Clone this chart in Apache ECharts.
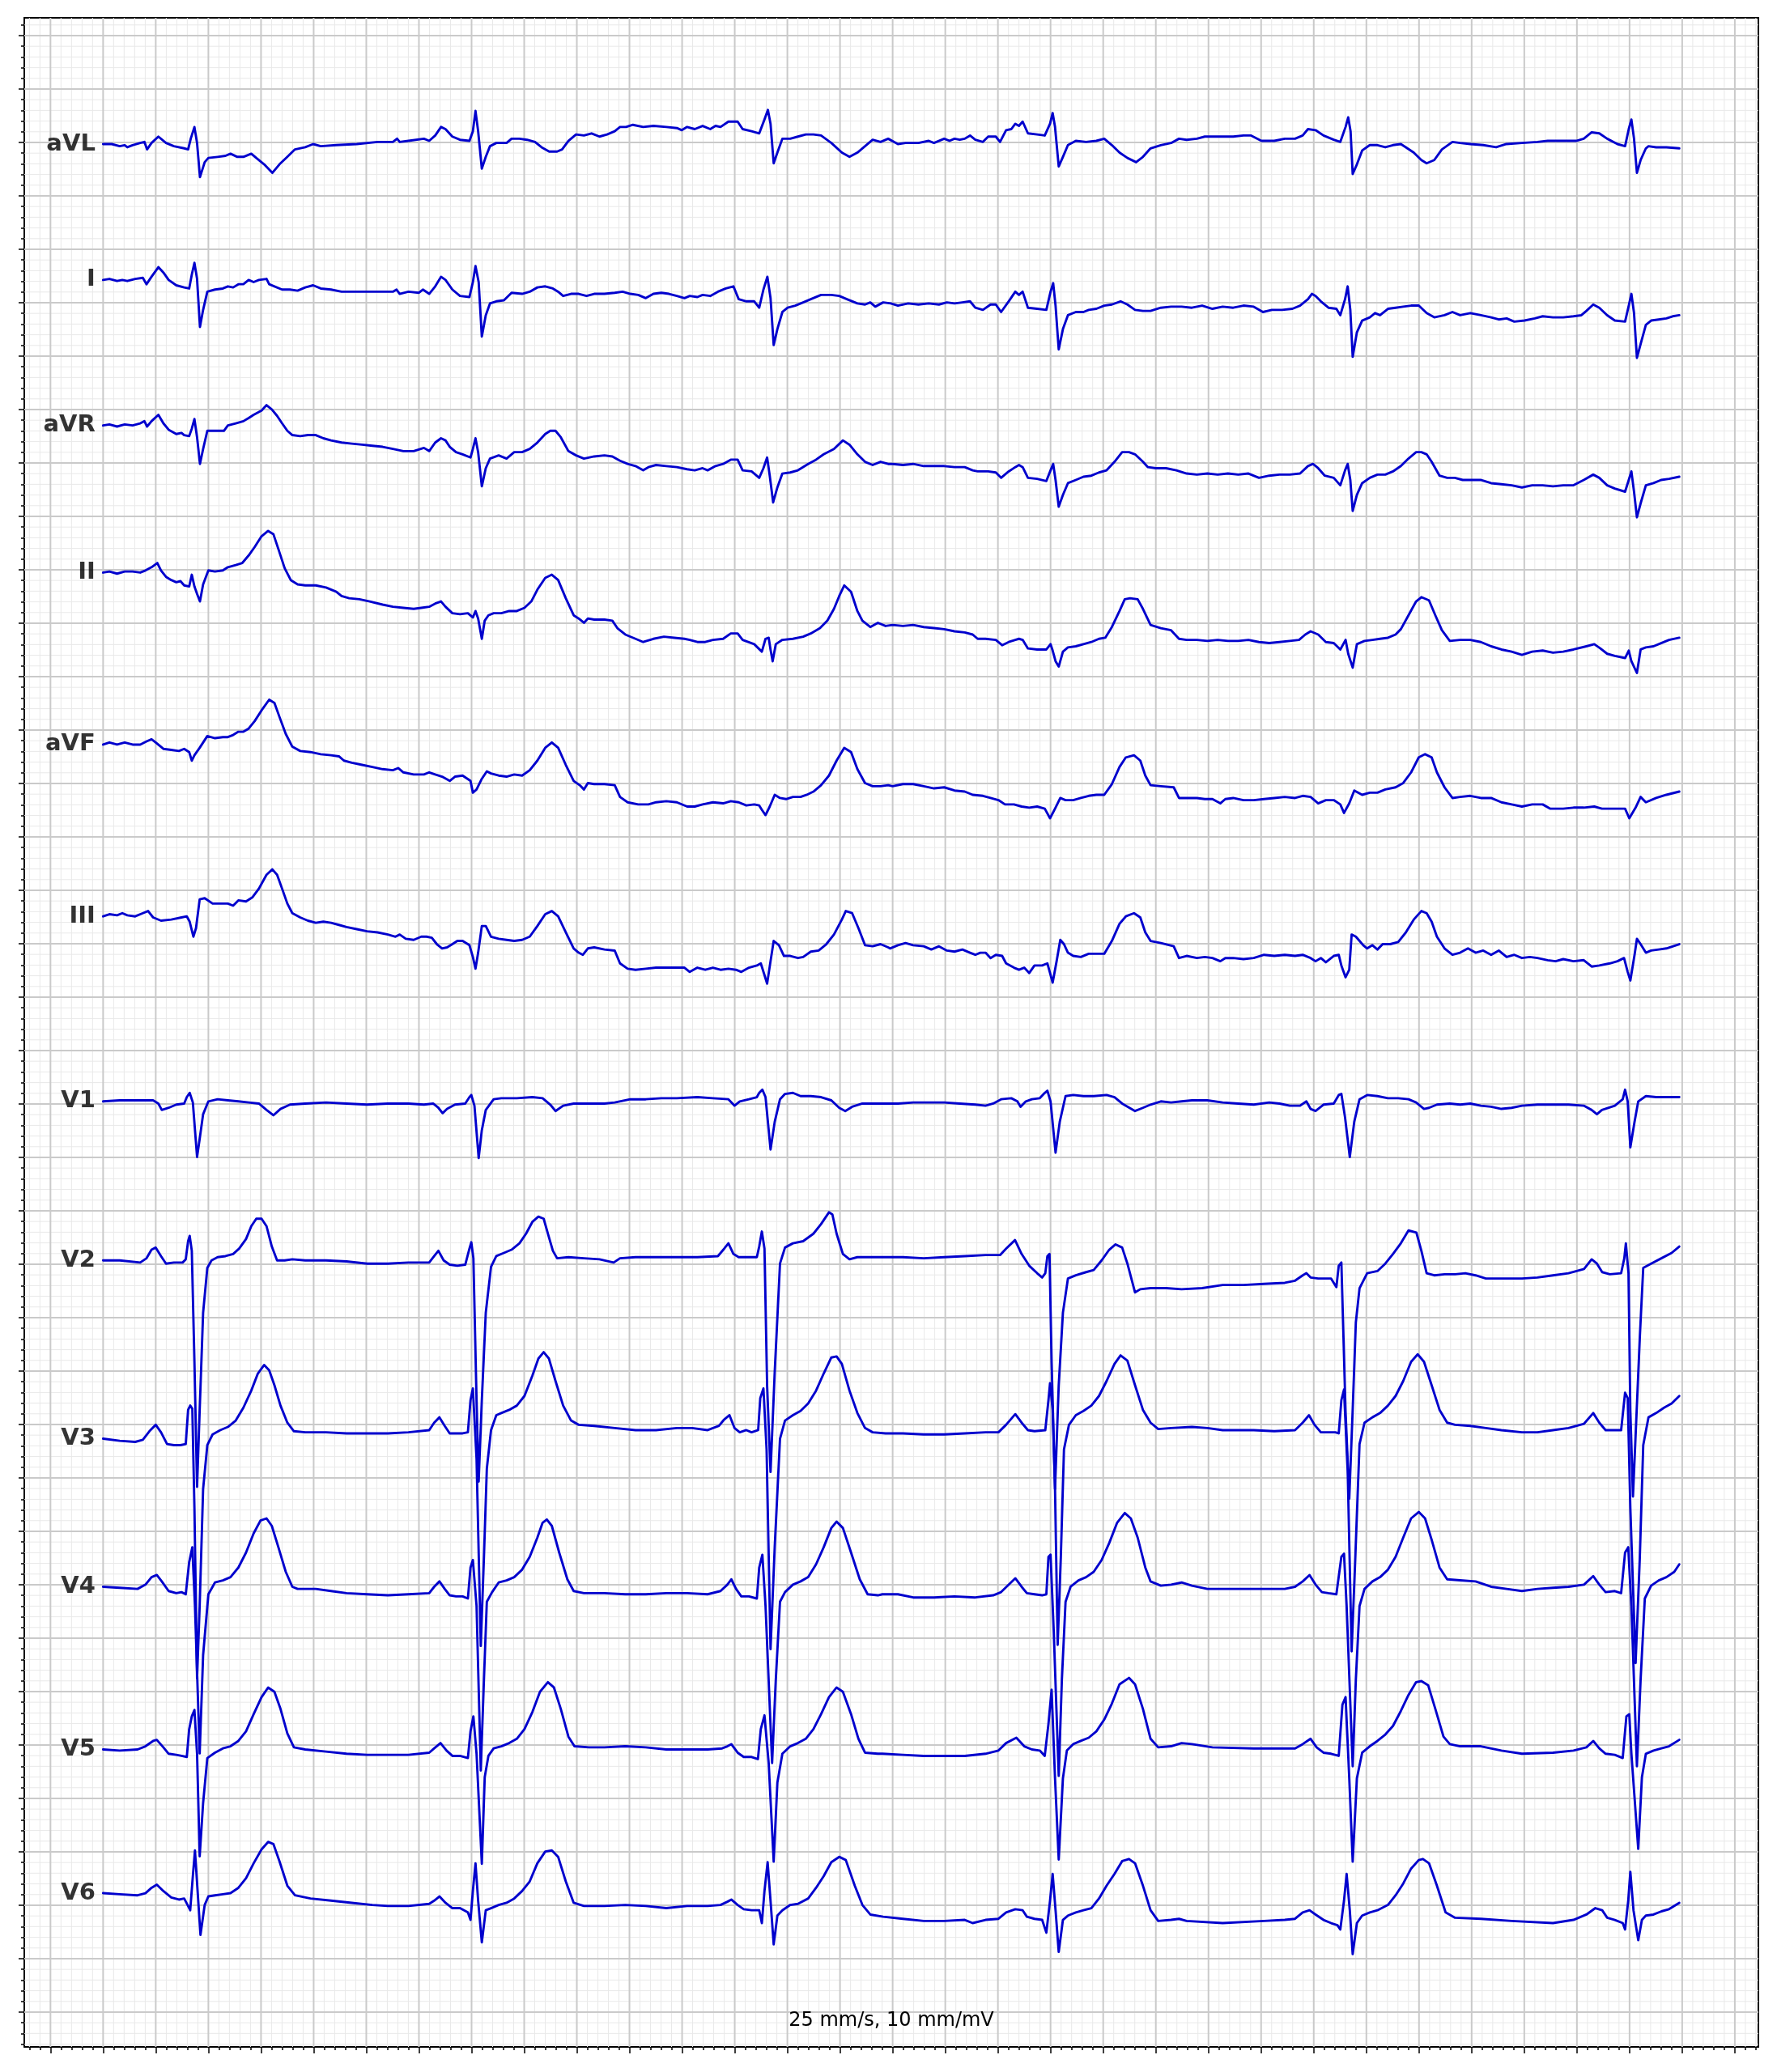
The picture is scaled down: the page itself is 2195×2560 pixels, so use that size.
<!DOCTYPE html>
<html>
<head>
<meta charset="utf-8">
<script src="https://cdn.jsdelivr.net/npm/echarts@6/dist/echarts.min.js"></script>
<style>
html,body{margin:0;padding:0;background:#ffffff;}
#chart{width:2195px;height:2560px;}
</style>
</head>
<body>
<div id="chart"></div>
<script>
// ---- Data (time in s, amplitude in mV relative to each lead's start level) ----
const leadNames = ['aVL','I','aVR','II','aVF','III','V1','V2','V3','V4','V5','V6'];
const leadOffsets = [-1.015,-2.287,-3.649,-5.026,-6.636,-8.244,-9.976,-11.464,-13.133,-14.519,-16.042,-17.387];
const caption = '25 mm/s, 10 mm/mV';

const aVL = [[0,0],[0.033,0],[0.063,-0.02],[0.082,-0.01],[0.092,-0.03],[0.112,-0.01],[0.141,0.01],[0.157,0.02],[0.167,-0.05],[0.184,0.01],[0.21,0.07],[0.239,0.01],[0.269,-0.02],[0.308,-0.04],[0.323,-0.05],[0.333,0.05],[0.347,0.16],[0.357,0.01],[0.368,-0.31],[0.386,-0.17],[0.4,-0.13],[0.435,-0.12],[0.465,-0.11],[0.484,-0.09],[0.51,-0.12],[0.533,-0.12],[0.563,-0.09],[0.582,-0.13],[0.612,-0.19],[0.643,-0.27],[0.67,-0.19],[0.7,-0.12],[0.729,-0.05],[0.768,-0.03],[0.798,0],[0.827,-0.02],[0.886,-0.01],[0.964,0],[1.043,0.02],[1.101,0.02],[1.117,0.05],[1.127,0.02],[1.16,0.03],[1.219,0.05],[1.239,0.03],[1.262,0.08],[1.284,0.16],[1.301,0.14],[1.327,0.07],[1.356,0.04],[1.392,0.03],[1.405,0.12],[1.415,0.31],[1.425,0.12],[1.439,-0.23],[1.454,-0.12],[1.47,-0.02],[1.494,0.01],[1.533,0.01],[1.552,0.05],[1.582,0.05],[1.611,0.04],[1.641,0.02],[1.666,-0.03],[1.695,-0.07],[1.725,-0.07],[1.744,-0.05],[1.768,0.03],[1.797,0.09],[1.827,0.08],[1.856,0.1],[1.886,0.07],[1.915,0.09],[1.944,0.12],[1.964,0.16],[1.987,0.16],[2.013,0.18],[2.052,0.16],[2.091,0.17],[2.14,0.16],[2.18,0.15],[2.199,0.13],[2.219,0.16],[2.248,0.14],[2.278,0.17],[2.307,0.14],[2.327,0.17],[2.346,0.16],[2.376,0.21],[2.411,0.21],[2.43,0.14],[2.464,0.12],[2.493,0.1],[2.513,0.23],[2.526,0.32],[2.536,0.19],[2.548,-0.18],[2.562,-0.08],[2.581,0.05],[2.611,0.05],[2.64,0.07],[2.67,0.09],[2.699,0.09],[2.728,0.08],[2.767,0.01],[2.807,-0.08],[2.836,-0.12],[2.866,-0.08],[2.895,-0.02],[2.924,0.04],[2.954,0.02],[2.983,0.05],[3.02,0],[3.049,0.01],[3.098,0.01],[3.137,0.03],[3.157,0.01],[3.196,0.05],[3.216,0.03],[3.235,0.05],[3.255,0.04],[3.274,0.05],[3.294,0.08],[3.314,0.04],[3.343,0.02],[3.363,0.07],[3.392,0.07],[3.408,0.02],[3.431,0.13],[3.451,0.14],[3.466,0.19],[3.48,0.17],[3.494,0.21],[3.514,0.1],[3.549,0.09],[3.578,0.08],[3.598,0.19],[3.608,0.29],[3.617,0.16],[3.631,-0.21],[3.647,-0.12],[3.666,-0.01],[3.696,0.03],[3.735,0.02],[3.774,0.03],[3.804,0.05],[3.833,-0.01],[3.862,-0.08],[3.892,-0.13],[3.925,-0.17],[3.951,-0.12],[3.98,-0.04],[4.019,-0.01],[4.058,0.01],[4.088,0.05],[4.117,0.04],[4.156,0.05],[4.186,0.07],[4.235,0.07],[4.294,0.07],[4.333,0.08],[4.362,0.08],[4.401,0.03],[4.45,0.03],[4.49,0.05],[4.529,0.05],[4.558,0.08],[4.578,0.14],[4.607,0.13],[4.637,0.08],[4.676,0.04],[4.701,0.02],[4.721,0.16],[4.731,0.25],[4.74,0.12],[4.748,-0.28],[4.764,-0.19],[4.784,-0.06],[4.813,-0.01],[4.842,-0.01],[4.872,-0.03],[4.901,-0.01],[4.931,0],[4.95,-0.03],[4.98,-0.08],[5.009,-0.15],[5.029,-0.18],[5.058,-0.15],[5.087,-0.05],[5.127,0.02],[5.156,0.01],[5.195,0],[5.244,-0.01],[5.293,-0.03],[5.332,0],[5.391,0.01],[5.45,0.02],[5.489,0.03],[5.548,0.03],[5.597,0.03],[5.626,0.05],[5.656,0.11],[5.685,0.1],[5.715,0.05],[5.754,0],[5.783,-0.02],[5.797,0.14],[5.807,0.23],[5.817,0.05],[5.828,-0.27],[5.842,-0.15],[5.862,-0.04],[5.872,-0.02],[5.901,-0.03],[5.94,-0.03],[5.989,-0.04]];

const I = [[0,0],[0.024,0.01],[0.053,-0.01],[0.073,0],[0.092,-0.01],[0.122,0.01],[0.151,0.02],[0.165,-0.04],[0.184,0.03],[0.21,0.12],[0.229,0.07],[0.249,0],[0.278,-0.05],[0.308,-0.07],[0.327,-0.08],[0.337,0.05],[0.347,0.16],[0.357,0.01],[0.368,-0.44],[0.38,-0.28],[0.396,-0.11],[0.425,-0.09],[0.455,-0.08],[0.474,-0.06],[0.494,-0.07],[0.514,-0.04],[0.533,-0.04],[0.553,0],[0.572,-0.02],[0.592,0],[0.621,0.01],[0.631,-0.04],[0.651,-0.06],[0.68,-0.09],[0.71,-0.09],[0.739,-0.1],[0.768,-0.07],[0.798,-0.05],[0.827,-0.08],[0.866,-0.09],[0.906,-0.11],[0.964,-0.11],[1.043,-0.11],[1.101,-0.11],[1.115,-0.09],[1.127,-0.13],[1.16,-0.11],[1.2,-0.12],[1.215,-0.09],[1.239,-0.13],[1.262,-0.06],[1.284,0.03],[1.301,0],[1.327,-0.09],[1.356,-0.15],[1.392,-0.16],[1.405,-0.02],[1.415,0.13],[1.427,-0.02],[1.439,-0.53],[1.454,-0.33],[1.47,-0.22],[1.494,-0.2],[1.523,-0.19],[1.552,-0.12],[1.592,-0.13],[1.621,-0.11],[1.65,-0.07],[1.68,-0.06],[1.709,-0.08],[1.729,-0.11],[1.748,-0.15],[1.778,-0.13],[1.807,-0.13],[1.837,-0.15],[1.866,-0.13],[1.905,-0.13],[1.944,-0.12],[1.974,-0.11],[2.003,-0.13],[2.033,-0.14],[2.062,-0.17],[2.091,-0.13],[2.121,-0.12],[2.15,-0.13],[2.18,-0.15],[2.209,-0.17],[2.229,-0.15],[2.258,-0.16],[2.278,-0.14],[2.307,-0.15],[2.336,-0.11],[2.366,-0.08],[2.395,-0.06],[2.415,-0.18],[2.444,-0.2],[2.474,-0.2],[2.493,-0.26],[2.509,-0.09],[2.524,0.03],[2.536,-0.17],[2.548,-0.61],[2.562,-0.46],[2.581,-0.3],[2.601,-0.26],[2.63,-0.24],[2.66,-0.21],[2.689,-0.18],[2.728,-0.14],[2.767,-0.14],[2.797,-0.15],[2.826,-0.18],[2.866,-0.22],[2.895,-0.23],[2.915,-0.21],[2.934,-0.25],[2.964,-0.21],[2.993,-0.22],[3.02,-0.24],[3.059,-0.22],[3.098,-0.23],[3.137,-0.22],[3.176,-0.23],[3.206,-0.21],[3.235,-0.22],[3.265,-0.21],[3.294,-0.2],[3.314,-0.26],[3.343,-0.28],[3.372,-0.23],[3.392,-0.23],[3.412,-0.3],[3.441,-0.2],[3.466,-0.11],[3.48,-0.14],[3.494,-0.11],[3.514,-0.26],[3.549,-0.27],[3.584,-0.28],[3.6,-0.11],[3.61,-0.03],[3.619,-0.24],[3.631,-0.65],[3.647,-0.46],[3.666,-0.33],[3.696,-0.3],[3.725,-0.3],[3.745,-0.28],[3.774,-0.27],[3.804,-0.24],[3.833,-0.23],[3.866,-0.2],[3.892,-0.23],[3.921,-0.28],[3.951,-0.29],[3.98,-0.29],[4.019,-0.26],[4.058,-0.25],[4.098,-0.25],[4.137,-0.26],[4.176,-0.24],[4.215,-0.27],[4.254,-0.25],[4.294,-0.26],[4.333,-0.24],[4.372,-0.25],[4.407,-0.3],[4.441,-0.28],[4.48,-0.28],[4.519,-0.27],[4.548,-0.24],[4.578,-0.18],[4.593,-0.13],[4.607,-0.15],[4.627,-0.2],[4.656,-0.26],[4.686,-0.27],[4.701,-0.33],[4.719,-0.18],[4.729,-0.06],[4.739,-0.28],[4.748,-0.72],[4.764,-0.49],[4.784,-0.38],[4.813,-0.35],[4.833,-0.31],[4.852,-0.33],[4.882,-0.27],[4.911,-0.26],[4.94,-0.25],[4.97,-0.24],[4.999,-0.24],[5.029,-0.31],[5.058,-0.35],[5.097,-0.33],[5.127,-0.3],[5.156,-0.33],[5.195,-0.31],[5.235,-0.33],[5.274,-0.35],[5.303,-0.37],[5.333,-0.36],[5.362,-0.39],[5.401,-0.38],[5.44,-0.36],[5.47,-0.34],[5.509,-0.35],[5.548,-0.35],[5.587,-0.34],[5.617,-0.33],[5.636,-0.29],[5.662,-0.23],[5.685,-0.26],[5.715,-0.33],[5.744,-0.38],[5.783,-0.39],[5.797,-0.24],[5.807,-0.13],[5.817,-0.31],[5.828,-0.73],[5.842,-0.6],[5.862,-0.42],[5.882,-0.38],[5.911,-0.37],[5.94,-0.36],[5.964,-0.34],[5.989,-0.33]];

const aVR = [[0,0],[0.024,0.01],[0.053,-0.01],[0.082,0.01],[0.112,0],[0.141,0.02],[0.157,0.04],[0.167,-0.01],[0.184,0.04],[0.21,0.1],[0.229,0.02],[0.249,-0.04],[0.278,-0.08],[0.298,-0.07],[0.308,-0.09],[0.327,-0.1],[0.337,-0.03],[0.347,0.06],[0.357,-0.11],[0.368,-0.36],[0.38,-0.22],[0.396,-0.05],[0.435,-0.05],[0.459,-0.05],[0.474,0],[0.504,0.02],[0.533,0.04],[0.553,0.07],[0.572,0.1],[0.602,0.14],[0.621,0.19],[0.641,0.15],[0.661,0.09],[0.68,0.02],[0.7,-0.05],[0.719,-0.09],[0.749,-0.1],[0.778,-0.09],[0.808,-0.09],[0.837,-0.12],[0.866,-0.14],[0.906,-0.16],[0.945,-0.17],[0.984,-0.18],[1.023,-0.19],[1.062,-0.2],[1.101,-0.22],[1.141,-0.24],[1.18,-0.24],[1.219,-0.21],[1.239,-0.24],[1.262,-0.16],[1.284,-0.12],[1.301,-0.14],[1.317,-0.2],[1.341,-0.25],[1.366,-0.27],[1.396,-0.3],[1.405,-0.22],[1.415,-0.12],[1.425,-0.25],[1.439,-0.57],[1.454,-0.4],[1.47,-0.31],[1.503,-0.28],[1.533,-0.31],[1.562,-0.25],[1.592,-0.25],[1.621,-0.22],[1.65,-0.16],[1.68,-0.08],[1.699,-0.05],[1.719,-0.05],[1.739,-0.11],[1.768,-0.24],[1.797,-0.28],[1.827,-0.31],[1.866,-0.29],[1.905,-0.28],[1.935,-0.29],[1.964,-0.33],[1.993,-0.36],[2.023,-0.38],[2.052,-0.42],[2.072,-0.39],[2.101,-0.37],[2.14,-0.38],[2.18,-0.39],[2.219,-0.41],[2.248,-0.42],[2.278,-0.4],[2.297,-0.42],[2.327,-0.38],[2.356,-0.36],[2.385,-0.32],[2.411,-0.32],[2.43,-0.42],[2.464,-0.43],[2.493,-0.49],[2.509,-0.4],[2.523,-0.3],[2.533,-0.47],[2.546,-0.72],[2.562,-0.58],[2.581,-0.45],[2.611,-0.44],[2.64,-0.42],[2.679,-0.36],[2.709,-0.32],[2.738,-0.27],[2.777,-0.22],[2.811,-0.14],[2.836,-0.18],[2.866,-0.27],[2.895,-0.34],[2.924,-0.37],[2.954,-0.34],[2.983,-0.36],[3,-0.36],[3.039,-0.37],[3.078,-0.36],[3.118,-0.38],[3.157,-0.38],[3.196,-0.38],[3.235,-0.39],[3.274,-0.39],[3.304,-0.42],[3.323,-0.43],[3.363,-0.43],[3.392,-0.44],[3.412,-0.49],[3.441,-0.43],[3.466,-0.39],[3.48,-0.37],[3.494,-0.39],[3.514,-0.49],[3.549,-0.5],[3.584,-0.52],[3.6,-0.42],[3.61,-0.36],[3.619,-0.51],[3.631,-0.76],[3.647,-0.65],[3.666,-0.54],[3.696,-0.51],[3.725,-0.48],[3.755,-0.47],[3.784,-0.44],[3.813,-0.42],[3.843,-0.34],[3.872,-0.25],[3.898,-0.25],[3.921,-0.27],[3.951,-0.34],[3.97,-0.39],[4,-0.4],[4.039,-0.4],[4.078,-0.42],[4.117,-0.45],[4.156,-0.46],[4.196,-0.45],[4.235,-0.46],[4.274,-0.45],[4.313,-0.46],[4.352,-0.45],[4.392,-0.49],[4.431,-0.47],[4.47,-0.46],[4.509,-0.46],[4.548,-0.45],[4.578,-0.38],[4.597,-0.36],[4.617,-0.4],[4.642,-0.47],[4.676,-0.49],[4.701,-0.56],[4.719,-0.42],[4.729,-0.36],[4.739,-0.51],[4.748,-0.8],[4.764,-0.65],[4.784,-0.54],[4.813,-0.49],[4.842,-0.46],[4.872,-0.46],[4.901,-0.43],[4.931,-0.38],[4.96,-0.31],[4.989,-0.25],[5.009,-0.25],[5.029,-0.27],[5.048,-0.34],[5.078,-0.47],[5.107,-0.49],[5.136,-0.49],[5.166,-0.51],[5.195,-0.51],[5.234,-0.51],[5.274,-0.54],[5.313,-0.55],[5.352,-0.56],[5.391,-0.58],[5.43,-0.56],[5.47,-0.56],[5.509,-0.57],[5.548,-0.56],[5.587,-0.56],[5.626,-0.51],[5.662,-0.46],[5.685,-0.49],[5.715,-0.56],[5.744,-0.59],[5.783,-0.62],[5.797,-0.51],[5.807,-0.43],[5.817,-0.62],[5.828,-0.86],[5.842,-0.73],[5.862,-0.56],[5.891,-0.54],[5.92,-0.51],[5.95,-0.5],[5.989,-0.48]];

const II = [[0,0],[0.024,0.01],[0.053,-0.01],[0.082,0.01],[0.112,0.01],[0.141,0],[0.161,0.02],[0.184,0.05],[0.206,0.09],[0.22,0.02],[0.239,-0.04],[0.259,-0.07],[0.278,-0.09],[0.294,-0.08],[0.308,-0.12],[0.327,-0.13],[0.337,-0.02],[0.347,-0.13],[0.357,-0.2],[0.368,-0.27],[0.38,-0.11],[0.4,0.02],[0.425,0.01],[0.455,0.02],[0.474,0.05],[0.504,0.07],[0.529,0.09],[0.553,0.16],[0.576,0.24],[0.602,0.34],[0.627,0.39],[0.647,0.36],[0.666,0.22],[0.69,0.04],[0.713,-0.07],[0.739,-0.11],[0.768,-0.12],[0.808,-0.12],[0.847,-0.14],[0.886,-0.18],[0.906,-0.22],[0.935,-0.24],[0.974,-0.25],[1.013,-0.27],[1.062,-0.3],[1.101,-0.32],[1.141,-0.33],[1.18,-0.34],[1.209,-0.33],[1.239,-0.32],[1.262,-0.29],[1.284,-0.27],[1.301,-0.32],[1.327,-0.38],[1.356,-0.39],[1.386,-0.38],[1.405,-0.42],[1.415,-0.36],[1.425,-0.43],[1.439,-0.62],[1.45,-0.45],[1.464,-0.4],[1.484,-0.38],[1.513,-0.38],[1.543,-0.36],[1.572,-0.36],[1.601,-0.33],[1.627,-0.27],[1.65,-0.16],[1.68,-0.05],[1.705,-0.02],[1.729,-0.07],[1.758,-0.24],[1.788,-0.4],[1.807,-0.43],[1.827,-0.47],[1.842,-0.43],[1.866,-0.44],[1.905,-0.44],[1.935,-0.45],[1.954,-0.52],[1.984,-0.58],[2.023,-0.62],[2.052,-0.65],[2.091,-0.62],[2.131,-0.6],[2.17,-0.61],[2.209,-0.62],[2.229,-0.63],[2.258,-0.65],[2.288,-0.65],[2.317,-0.63],[2.356,-0.62],[2.385,-0.57],[2.411,-0.57],[2.43,-0.63],[2.474,-0.67],[2.503,-0.74],[2.517,-0.62],[2.529,-0.61],[2.536,-0.72],[2.544,-0.83],[2.556,-0.67],[2.581,-0.63],[2.621,-0.62],[2.66,-0.6],[2.689,-0.57],[2.724,-0.52],[2.752,-0.45],[2.777,-0.34],[2.797,-0.22],[2.816,-0.12],[2.842,-0.18],[2.866,-0.36],[2.885,-0.45],[2.915,-0.51],[2.944,-0.47],[2.973,-0.5],[3,-0.49],[3.039,-0.5],[3.078,-0.49],[3.118,-0.51],[3.157,-0.52],[3.196,-0.53],[3.235,-0.55],[3.274,-0.56],[3.304,-0.58],[3.323,-0.62],[3.353,-0.62],[3.392,-0.63],[3.416,-0.68],[3.441,-0.65],[3.466,-0.63],[3.48,-0.62],[3.494,-0.63],[3.514,-0.71],[3.549,-0.72],[3.584,-0.72],[3.6,-0.67],[3.608,-0.73],[3.619,-0.83],[3.631,-0.88],[3.647,-0.74],[3.666,-0.7],[3.696,-0.69],[3.725,-0.67],[3.755,-0.65],[3.784,-0.62],[3.808,-0.61],[3.833,-0.51],[3.862,-0.36],[3.882,-0.25],[3.902,-0.24],[3.931,-0.25],[3.951,-0.34],[3.98,-0.49],[4.019,-0.52],[4.058,-0.54],[4.088,-0.62],[4.117,-0.63],[4.156,-0.63],[4.196,-0.64],[4.235,-0.63],[4.274,-0.64],[4.313,-0.64],[4.352,-0.63],[4.392,-0.65],[4.431,-0.66],[4.47,-0.65],[4.509,-0.64],[4.544,-0.63],[4.568,-0.58],[4.588,-0.55],[4.617,-0.58],[4.646,-0.65],[4.676,-0.66],[4.701,-0.72],[4.721,-0.63],[4.731,-0.76],[4.748,-0.89],[4.764,-0.67],[4.793,-0.64],[4.823,-0.63],[4.852,-0.62],[4.882,-0.61],[4.911,-0.58],[4.931,-0.53],[4.96,-0.4],[4.989,-0.27],[5.009,-0.23],[5.038,-0.26],[5.062,-0.4],[5.087,-0.54],[5.117,-0.64],[5.156,-0.63],[5.195,-0.63],[5.235,-0.65],[5.274,-0.69],[5.313,-0.72],[5.352,-0.74],[5.391,-0.77],[5.43,-0.74],[5.47,-0.73],[5.509,-0.75],[5.548,-0.74],[5.587,-0.72],[5.636,-0.69],[5.666,-0.67],[5.689,-0.71],[5.715,-0.76],[5.744,-0.78],[5.783,-0.8],[5.797,-0.73],[5.807,-0.83],[5.828,-0.94],[5.842,-0.72],[5.862,-0.7],[5.891,-0.69],[5.92,-0.66],[5.95,-0.63],[5.989,-0.61]];

const aVF = [[0,0],[0.024,0.02],[0.053,0],[0.082,0.02],[0.112,0],[0.141,0],[0.165,0.03],[0.184,0.05],[0.2,0.02],[0.229,-0.04],[0.259,-0.05],[0.288,-0.06],[0.308,-0.04],[0.327,-0.07],[0.337,-0.15],[0.347,-0.1],[0.367,-0.03],[0.396,0.08],[0.425,0.06],[0.455,0.07],[0.474,0.07],[0.494,0.09],[0.514,0.12],[0.533,0.12],[0.553,0.15],[0.576,0.22],[0.602,0.32],[0.631,0.42],[0.651,0.39],[0.67,0.26],[0.694,0.1],[0.719,-0.02],[0.749,-0.06],[0.788,-0.07],[0.827,-0.09],[0.866,-0.1],[0.896,-0.11],[0.915,-0.15],[0.945,-0.17],[0.984,-0.19],[1.023,-0.21],[1.062,-0.23],[1.101,-0.24],[1.121,-0.22],[1.141,-0.26],[1.18,-0.28],[1.219,-0.28],[1.239,-0.26],[1.262,-0.28],[1.288,-0.3],[1.317,-0.34],[1.337,-0.3],[1.366,-0.29],[1.396,-0.34],[1.405,-0.45],[1.419,-0.42],[1.439,-0.32],[1.458,-0.25],[1.474,-0.27],[1.503,-0.29],[1.533,-0.3],[1.562,-0.28],[1.592,-0.29],[1.621,-0.24],[1.65,-0.15],[1.68,-0.03],[1.705,0.02],[1.729,-0.03],[1.758,-0.19],[1.788,-0.34],[1.811,-0.38],[1.827,-0.42],[1.842,-0.36],[1.866,-0.37],[1.905,-0.37],[1.944,-0.38],[1.964,-0.49],[1.993,-0.54],[2.033,-0.56],[2.072,-0.56],[2.101,-0.54],[2.14,-0.53],[2.18,-0.54],[2.219,-0.58],[2.248,-0.58],[2.278,-0.56],[2.317,-0.54],[2.356,-0.55],[2.385,-0.53],[2.415,-0.54],[2.444,-0.57],[2.474,-0.56],[2.493,-0.57],[2.503,-0.61],[2.517,-0.66],[2.533,-0.58],[2.552,-0.47],[2.572,-0.5],[2.595,-0.51],[2.621,-0.49],[2.65,-0.49],[2.674,-0.47],[2.699,-0.44],[2.728,-0.38],[2.758,-0.29],[2.787,-0.15],[2.816,-0.03],[2.842,-0.07],[2.866,-0.23],[2.895,-0.36],[2.924,-0.39],[2.954,-0.39],[2.983,-0.38],[3,-0.39],[3.039,-0.37],[3.078,-0.37],[3.118,-0.39],[3.157,-0.41],[3.196,-0.4],[3.235,-0.43],[3.274,-0.44],[3.304,-0.47],[3.343,-0.48],[3.372,-0.5],[3.402,-0.52],[3.427,-0.56],[3.461,-0.56],[3.49,-0.58],[3.519,-0.59],[3.549,-0.58],[3.578,-0.6],[3.598,-0.69],[3.617,-0.6],[3.637,-0.5],[3.657,-0.52],[3.686,-0.52],[3.715,-0.5],[3.745,-0.48],[3.774,-0.47],[3.804,-0.47],[3.833,-0.37],[3.862,-0.21],[3.886,-0.12],[3.917,-0.1],[3.941,-0.15],[3.96,-0.29],[3.98,-0.38],[4.019,-0.39],[4.068,-0.4],[4.088,-0.5],[4.117,-0.5],[4.156,-0.5],[4.186,-0.51],[4.215,-0.51],[4.245,-0.55],[4.264,-0.51],[4.294,-0.5],[4.333,-0.52],[4.372,-0.52],[4.411,-0.51],[4.45,-0.5],[4.49,-0.49],[4.529,-0.5],[4.558,-0.48],[4.588,-0.49],[4.617,-0.55],[4.646,-0.52],[4.676,-0.52],[4.701,-0.56],[4.715,-0.64],[4.735,-0.55],[4.754,-0.43],[4.784,-0.47],[4.813,-0.45],[4.842,-0.45],[4.872,-0.42],[4.911,-0.4],[4.94,-0.36],[4.97,-0.26],[4.999,-0.12],[5.023,-0.09],[5.048,-0.12],[5.068,-0.26],[5.097,-0.4],[5.127,-0.5],[5.156,-0.49],[5.195,-0.48],[5.235,-0.5],[5.274,-0.5],[5.313,-0.54],[5.352,-0.56],[5.391,-0.58],[5.43,-0.56],[5.47,-0.56],[5.499,-0.6],[5.548,-0.6],[5.587,-0.59],[5.626,-0.59],[5.666,-0.58],[5.695,-0.6],[5.744,-0.6],[5.783,-0.6],[5.799,-0.69],[5.823,-0.59],[5.842,-0.49],[5.862,-0.54],[5.901,-0.5],[5.94,-0.47],[5.989,-0.44]];

const III = [[0,0],[0.024,0.02],[0.053,0.01],[0.073,0.03],[0.092,0.01],[0.122,0],[0.151,0.03],[0.171,0.05],[0.19,-0.01],[0.22,-0.04],[0.259,-0.03],[0.298,-0.01],[0.318,0],[0.329,-0.05],[0.343,-0.19],[0.353,-0.11],[0.367,0.16],[0.386,0.17],[0.416,0.12],[0.445,0.12],[0.474,0.12],[0.494,0.1],[0.514,0.15],[0.543,0.14],[0.568,0.18],[0.592,0.26],[0.621,0.39],[0.643,0.44],[0.661,0.39],[0.68,0.26],[0.7,0.12],[0.719,0.03],[0.749,-0.01],[0.778,-0.04],[0.808,-0.06],[0.837,-0.05],[0.866,-0.06],[0.896,-0.08],[0.925,-0.1],[0.964,-0.12],[1.003,-0.14],[1.043,-0.15],[1.082,-0.17],[1.111,-0.19],[1.127,-0.17],[1.15,-0.21],[1.18,-0.22],[1.209,-0.19],[1.229,-0.19],[1.249,-0.2],[1.268,-0.26],[1.288,-0.3],[1.307,-0.29],[1.327,-0.26],[1.346,-0.23],[1.366,-0.23],[1.392,-0.27],[1.405,-0.38],[1.415,-0.49],[1.425,-0.34],[1.439,-0.09],[1.454,-0.09],[1.474,-0.19],[1.503,-0.21],[1.533,-0.22],[1.562,-0.23],[1.592,-0.22],[1.621,-0.19],[1.65,-0.09],[1.68,0.02],[1.705,0.05],[1.729,0],[1.758,-0.15],[1.788,-0.3],[1.807,-0.34],[1.823,-0.36],[1.842,-0.3],[1.866,-0.29],[1.905,-0.31],[1.944,-0.32],[1.964,-0.44],[1.993,-0.49],[2.023,-0.5],[2.062,-0.49],[2.101,-0.48],[2.14,-0.48],[2.18,-0.48],[2.209,-0.48],[2.229,-0.52],[2.258,-0.48],[2.288,-0.5],[2.317,-0.48],[2.346,-0.5],[2.376,-0.49],[2.405,-0.5],[2.425,-0.52],[2.454,-0.48],[2.484,-0.46],[2.499,-0.44],[2.513,-0.55],[2.523,-0.63],[2.536,-0.42],[2.548,-0.23],[2.568,-0.27],[2.587,-0.37],[2.611,-0.37],[2.64,-0.39],[2.66,-0.38],[2.689,-0.33],[2.719,-0.32],[2.748,-0.26],[2.777,-0.17],[2.807,-0.03],[2.822,0.05],[2.846,0.03],[2.87,-0.11],[2.895,-0.27],[2.924,-0.28],[2.954,-0.26],[2.983,-0.29],[2.99,-0.3],[3.02,-0.27],[3.049,-0.25],[3.078,-0.27],[3.118,-0.28],[3.147,-0.31],[3.176,-0.28],[3.206,-0.32],[3.235,-0.33],[3.265,-0.31],[3.294,-0.34],[3.314,-0.36],[3.333,-0.34],[3.353,-0.34],[3.372,-0.39],[3.392,-0.36],[3.416,-0.37],[3.431,-0.44],[3.461,-0.48],[3.48,-0.5],[3.5,-0.48],[3.519,-0.53],[3.539,-0.46],[3.568,-0.46],[3.588,-0.44],[3.598,-0.53],[3.608,-0.62],[3.623,-0.42],[3.637,-0.22],[3.651,-0.26],[3.666,-0.34],[3.686,-0.37],[3.715,-0.38],[3.745,-0.35],[3.774,-0.35],[3.804,-0.35],[3.833,-0.23],[3.862,-0.07],[3.886,0],[3.917,0.03],[3.941,-0.01],[3.96,-0.15],[3.98,-0.23],[4.019,-0.25],[4.068,-0.28],[4.088,-0.39],[4.117,-0.37],[4.156,-0.39],[4.186,-0.38],[4.215,-0.39],[4.245,-0.42],[4.264,-0.39],[4.294,-0.39],[4.333,-0.4],[4.372,-0.39],[4.411,-0.36],[4.45,-0.37],[4.49,-0.36],[4.529,-0.37],[4.558,-0.36],[4.588,-0.39],[4.607,-0.42],[4.627,-0.39],[4.646,-0.43],[4.676,-0.37],[4.695,-0.36],[4.705,-0.46],[4.721,-0.57],[4.735,-0.5],[4.744,-0.17],[4.76,-0.19],[4.774,-0.23],[4.788,-0.27],[4.803,-0.3],[4.823,-0.27],[4.842,-0.31],[4.862,-0.26],[4.891,-0.26],[4.921,-0.24],[4.95,-0.15],[4.98,-0.03],[5.009,0.05],[5.029,0.03],[5.048,-0.05],[5.068,-0.19],[5.097,-0.3],[5.127,-0.36],[5.156,-0.34],[5.186,-0.3],[5.215,-0.34],[5.244,-0.32],[5.274,-0.36],[5.303,-0.32],[5.333,-0.38],[5.362,-0.36],[5.391,-0.39],[5.421,-0.38],[5.45,-0.39],[5.489,-0.41],[5.519,-0.42],[5.548,-0.4],[5.587,-0.42],[5.626,-0.41],[5.656,-0.47],[5.685,-0.46],[5.725,-0.44],[5.754,-0.42],[5.779,-0.39],[5.793,-0.52],[5.803,-0.6],[5.819,-0.36],[5.828,-0.21],[5.842,-0.26],[5.862,-0.34],[5.882,-0.32],[5.911,-0.31],[5.94,-0.3],[5.989,-0.26]];

const V1 = [[0,0],[0.063,0.01],[0.141,0.01],[0.19,0.01],[0.21,-0.02],[0.223,-0.08],[0.249,-0.06],[0.278,-0.03],[0.308,-0.02],[0.318,0.04],[0.329,0.08],[0.341,-0.01],[0.357,-0.52],[0.367,-0.35],[0.38,-0.12],[0.4,0],[0.435,0.02],[0.474,0.01],[0.514,0],[0.553,-0.01],[0.592,-0.02],[0.621,-0.08],[0.647,-0.13],[0.674,-0.07],[0.71,-0.03],[0.768,-0.02],[0.847,-0.01],[0.925,-0.02],[1.003,-0.03],[1.082,-0.02],[1.16,-0.02],[1.219,-0.03],[1.254,-0.02],[1.274,-0.06],[1.29,-0.11],[1.307,-0.07],[1.337,-0.03],[1.376,-0.02],[1.392,0.04],[1.399,0.06],[1.411,-0.04],[1.427,-0.53],[1.439,-0.27],[1.454,-0.08],[1.484,0.02],[1.513,0.03],[1.572,0.03],[1.631,0.04],[1.67,0.03],[1.699,-0.03],[1.719,-0.09],[1.748,-0.04],[1.788,-0.02],[1.846,-0.02],[1.905,-0.02],[1.944,-0.01],[2.003,0.02],[2.062,0.02],[2.121,0.03],[2.18,0.03],[2.258,0.04],[2.317,0.03],[2.376,0.02],[2.399,-0.04],[2.419,0],[2.454,0.02],[2.484,0.04],[2.493,0.08],[2.505,0.11],[2.517,0.04],[2.536,-0.45],[2.552,-0.19],[2.572,0.02],[2.591,0.07],[2.621,0.08],[2.65,0.05],[2.689,0.05],[2.728,0.04],[2.767,0.01],[2.797,-0.06],[2.82,-0.09],[2.846,-0.05],[2.885,-0.02],[2.944,-0.02],[3.02,-0.02],[3.078,-0.01],[3.137,-0.01],[3.196,-0.01],[3.255,-0.02],[3.314,-0.03],[3.353,-0.04],[3.382,-0.02],[3.412,0.02],[3.451,0.03],[3.474,0],[3.486,-0.05],[3.506,0],[3.529,0.02],[3.559,0.03],[3.578,0.08],[3.588,0.1],[3.6,0],[3.619,-0.48],[3.635,-0.19],[3.657,0.05],[3.686,0.06],[3.725,0.05],[3.764,0.05],[3.813,0.06],[3.843,0.04],[3.872,-0.02],[3.921,-0.09],[3.951,-0.06],[3.98,-0.03],[4.019,0],[4.058,-0.01],[4.098,0],[4.137,0.01],[4.196,0.01],[4.254,-0.01],[4.313,-0.02],[4.372,-0.03],[4.431,-0.01],[4.47,-0.02],[4.509,-0.04],[4.548,-0.04],[4.572,0],[4.588,-0.07],[4.607,-0.09],[4.637,-0.03],[4.676,-0.02],[4.695,0.06],[4.705,0.07],[4.719,-0.15],[4.737,-0.52],[4.754,-0.19],[4.774,0.02],[4.803,0.06],[4.842,0.05],[4.882,0.03],[4.921,0.03],[4.96,0.02],[4.989,-0.01],[5.019,-0.07],[5.038,-0.06],[5.068,-0.03],[5.117,-0.02],[5.156,-0.03],[5.195,-0.02],[5.235,-0.04],[5.274,-0.05],[5.313,-0.07],[5.352,-0.06],[5.391,-0.04],[5.45,-0.03],[5.509,-0.03],[5.568,-0.03],[5.626,-0.04],[5.656,-0.08],[5.676,-0.12],[5.695,-0.08],[5.744,-0.04],[5.774,0.02],[5.783,0.11],[5.793,0],[5.803,-0.43],[5.819,-0.19],[5.833,0],[5.862,0.05],[5.901,0.04],[5.94,0.04],[5.989,0.04]];

const V2 = [[0,0],[0.063,0],[0.141,-0.02],[0.165,0.02],[0.184,0.1],[0.2,0.12],[0.22,0.04],[0.239,-0.03],[0.269,-0.02],[0.302,-0.02],[0.314,0.01],[0.323,0.18],[0.329,0.23],[0.337,0.09],[0.347,-0.95],[0.357,-2.12],[0.367,-1.4],[0.38,-0.49],[0.396,-0.07],[0.412,0],[0.435,0.03],[0.465,0.04],[0.494,0.06],[0.517,0.11],[0.543,0.2],[0.563,0.32],[0.582,0.39],[0.602,0.39],[0.621,0.32],[0.641,0.13],[0.661,0],[0.69,0],[0.719,0.01],[0.768,0],[0.847,0],[0.925,-0.01],[1.003,-0.03],[1.082,-0.03],[1.16,-0.02],[1.239,-0.02],[1.258,0.04],[1.274,0.09],[1.294,0],[1.317,-0.04],[1.346,-0.05],[1.376,-0.04],[1.392,0.11],[1.399,0.17],[1.407,0.02],[1.419,-1.31],[1.427,-2.07],[1.439,-1.31],[1.454,-0.49],[1.474,-0.06],[1.494,0.04],[1.523,0.07],[1.552,0.1],[1.582,0.16],[1.607,0.25],[1.631,0.36],[1.654,0.41],[1.674,0.39],[1.69,0.25],[1.709,0.09],[1.725,0.02],[1.768,0.03],[1.827,0.02],[1.886,0.01],[1.94,-0.02],[1.964,0.02],[2.023,0.03],[2.101,0.03],[2.18,0.03],[2.258,0.03],[2.336,0.04],[2.36,0.11],[2.376,0.16],[2.395,0.06],[2.415,0.03],[2.444,0.03],[2.484,0.03],[2.493,0.13],[2.503,0.27],[2.513,0.11],[2.523,-1.17],[2.536,-1.98],[2.552,-1.04],[2.572,-0.03],[2.591,0.12],[2.621,0.16],[2.66,0.18],[2.699,0.25],[2.728,0.34],[2.758,0.45],[2.771,0.43],[2.787,0.25],[2.811,0.06],[2.836,0.01],[2.866,0.03],[2.924,0.03],[2.961,0.03],[3.039,0.03],[3.118,0.02],[3.196,0.03],[3.274,0.04],[3.353,0.05],[3.408,0.05],[3.431,0.11],[3.465,0.19],[3.49,0.06],[3.519,-0.05],[3.549,-0.12],[3.568,-0.16],[3.58,-0.12],[3.588,0.04],[3.596,0.06],[3.604,-0.95],[3.617,-2.14],[3.631,-1.17],[3.647,-0.49],[3.666,-0.17],[3.696,-0.14],[3.735,-0.11],[3.764,-0.09],[3.794,0],[3.823,0.1],[3.847,0.15],[3.872,0.12],[3.892,-0.03],[3.921,-0.3],[3.941,-0.27],[3.98,-0.26],[4.039,-0.26],[4.098,-0.27],[4.176,-0.26],[4.254,-0.23],[4.333,-0.23],[4.411,-0.22],[4.49,-0.21],[4.529,-0.19],[4.558,-0.14],[4.572,-0.12],[4.588,-0.16],[4.617,-0.17],[4.666,-0.17],[4.686,-0.25],[4.695,-0.05],[4.705,-0.02],[4.721,-1.42],[4.735,-2.23],[4.748,-1.4],[4.76,-0.58],[4.774,-0.26],[4.803,-0.12],[4.842,-0.1],[4.872,-0.03],[4.901,0.06],[4.931,0.16],[4.96,0.28],[4.99,0.26],[5.009,0.09],[5.029,-0.12],[5.058,-0.14],[5.097,-0.13],[5.137,-0.13],[5.176,-0.12],[5.215,-0.14],[5.254,-0.17],[5.313,-0.17],[5.391,-0.17],[5.45,-0.16],[5.509,-0.14],[5.568,-0.12],[5.627,-0.08],[5.656,0.01],[5.676,-0.03],[5.696,-0.11],[5.725,-0.13],[5.768,-0.12],[5.78,0.02],[5.786,0.16],[5.796,-0.12],[5.803,-1.41],[5.813,-2.21],[5.827,-1.41],[5.839,-0.72],[5.852,-0.07],[5.882,-0.03],[5.921,0.02],[5.96,0.07],[5.989,0.13]];

const V3 = [[0,0],[0.063,-0.02],[0.122,-0.03],[0.151,-0.01],[0.176,0.07],[0.2,0.13],[0.22,0.06],[0.243,-0.05],[0.269,-0.06],[0.294,-0.06],[0.314,-0.05],[0.323,0.27],[0.331,0.31],[0.339,0.28],[0.347,-0.65],[0.357,-2.24],[0.367,-1.56],[0.38,-0.47],[0.396,-0.06],[0.416,0.04],[0.445,0.08],[0.474,0.11],[0.504,0.17],[0.533,0.29],[0.563,0.45],[0.588,0.61],[0.612,0.69],[0.631,0.64],[0.651,0.5],[0.674,0.31],[0.7,0.15],[0.725,0.07],[0.768,0.06],[0.847,0.06],[0.925,0.05],[1.003,0.05],[1.082,0.05],[1.16,0.06],[1.239,0.08],[1.258,0.15],[1.278,0.2],[1.298,0.12],[1.317,0.05],[1.337,0.05],[1.366,0.05],[1.386,0.06],[1.396,0.36],[1.405,0.47],[1.419,-0.19],[1.435,-1.94],[1.447,-1.11],[1.458,-0.28],[1.474,0.08],[1.494,0.22],[1.513,0.24],[1.543,0.27],[1.572,0.31],[1.601,0.4],[1.631,0.59],[1.654,0.75],[1.674,0.81],[1.694,0.75],[1.719,0.54],[1.748,0.31],[1.778,0.17],[1.807,0.13],[1.866,0.12],[1.944,0.1],[2.023,0.08],[2.101,0.08],[2.18,0.1],[2.238,0.1],[2.297,0.08],[2.34,0.12],[2.36,0.18],[2.38,0.22],[2.399,0.1],[2.419,0.06],[2.444,0.08],[2.464,0.06],[2.489,0.08],[2.497,0.38],[2.509,0.47],[2.521,-0.1],[2.536,-1.97],[2.552,-1.01],[2.572,0],[2.591,0.17],[2.621,0.22],[2.65,0.26],[2.679,0.33],[2.709,0.45],[2.738,0.61],[2.767,0.76],[2.787,0.77],[2.807,0.7],[2.836,0.45],[2.866,0.24],[2.895,0.1],[2.924,0.06],[2.973,0.05],[3,0.05],[3.039,0.05],[3.118,0.04],[3.196,0.04],[3.274,0.05],[3.353,0.06],[3.402,0.06],[3.431,0.13],[3.466,0.23],[3.49,0.15],[3.514,0.08],[3.539,0.07],[3.58,0.08],[3.592,0.36],[3.598,0.52],[3.608,0.27],[3.617,-0.47],[3.627,-1.93],[3.639,-1.11],[3.651,-0.1],[3.67,0.13],[3.696,0.22],[3.725,0.26],[3.755,0.31],[3.784,0.4],[3.813,0.54],[3.843,0.7],[3.866,0.78],[3.892,0.73],[3.921,0.5],[3.951,0.27],[3.98,0.15],[4.009,0.09],[4.058,0.1],[4.137,0.11],[4.196,0.1],[4.254,0.08],[4.372,0.08],[4.45,0.07],[4.529,0.08],[4.558,0.15],[4.582,0.22],[4.603,0.13],[4.627,0.06],[4.682,0.06],[4.695,0.05],[4.705,0.36],[4.715,0.46],[4.729,-0.3],[4.744,-1.99],[4.758,-1.11],[4.774,-0.05],[4.793,0.15],[4.823,0.2],[4.852,0.24],[4.882,0.31],[4.911,0.4],[4.94,0.54],[4.97,0.72],[4.995,0.79],[5.019,0.72],[5.048,0.5],[5.078,0.27],[5.107,0.15],[5.137,0.13],[5.195,0.12],[5.254,0.1],[5.313,0.08],[5.391,0.06],[5.45,0.06],[5.509,0.08],[5.568,0.1],[5.627,0.14],[5.662,0.24],[5.685,0.15],[5.709,0.08],[5.768,0.08],[5.783,0.43],[5.793,0.38],[5.803,-0.65],[5.823,-2.1],[5.839,-1.11],[5.852,-0.06],[5.872,0.2],[5.901,0.24],[5.931,0.29],[5.96,0.33],[5.989,0.4]];

const V4 = [[0,0],[0.063,-0.01],[0.131,-0.02],[0.161,0.02],[0.184,0.09],[0.204,0.11],[0.223,0.05],[0.249,-0.04],[0.278,-0.06],[0.298,-0.05],[0.314,-0.07],[0.327,0.23],[0.339,0.37],[0.349,-0.18],[0.367,-1.56],[0.38,-0.64],[0.4,-0.07],[0.425,0.04],[0.455,0.06],[0.484,0.09],[0.514,0.18],[0.543,0.32],[0.572,0.5],[0.598,0.62],[0.621,0.64],[0.641,0.57],[0.666,0.37],[0.694,0.14],[0.719,0],[0.739,-0.02],[0.808,-0.02],[0.866,-0.04],[0.925,-0.06],[1.003,-0.07],[1.082,-0.08],[1.16,-0.07],[1.239,-0.06],[1.258,0],[1.278,0.05],[1.298,-0.02],[1.317,-0.08],[1.341,-0.09],[1.366,-0.09],[1.386,-0.11],[1.396,0.18],[1.405,0.25],[1.419,-0.18],[1.435,-1.72],[1.447,-0.87],[1.458,-0.14],[1.478,-0.05],[1.503,0.04],[1.533,0.06],[1.562,0.09],[1.592,0.16],[1.621,0.28],[1.65,0.46],[1.67,0.6],[1.686,0.63],[1.705,0.57],[1.733,0.32],[1.764,0.07],[1.788,-0.04],[1.827,-0.06],[1.905,-0.06],[1.984,-0.07],[2.062,-0.07],[2.14,-0.06],[2.219,-0.06],[2.297,-0.07],[2.346,-0.04],[2.372,0.02],[2.387,0.07],[2.405,-0.02],[2.425,-0.09],[2.454,-0.09],[2.484,-0.11],[2.493,0.18],[2.505,0.3],[2.517,-0.18],[2.542,-1.65],[2.556,-0.87],[2.572,-0.14],[2.591,-0.05],[2.621,0.02],[2.65,0.05],[2.679,0.09],[2.709,0.21],[2.738,0.37],[2.767,0.55],[2.787,0.61],[2.811,0.55],[2.842,0.32],[2.875,0.07],[2.905,-0.07],[2.944,-0.08],[2.961,-0.07],[3.02,-0.07],[3.078,-0.1],[3.157,-0.1],[3.235,-0.09],[3.314,-0.1],[3.382,-0.08],[3.412,-0.05],[3.466,0.08],[3.49,0],[3.51,-0.06],[3.539,-0.07],[3.568,-0.08],[3.584,-0.07],[3.592,0.28],[3.6,0.3],[3.612,-0.41],[3.631,-1.77],[3.643,-0.87],[3.657,-0.14],[3.676,0],[3.706,0.06],[3.735,0.09],[3.764,0.14],[3.794,0.25],[3.823,0.41],[3.853,0.6],[3.882,0.69],[3.905,0.64],[3.931,0.46],[3.96,0.18],[3.98,0.05],[4.019,0.01],[4.058,0.02],[4.098,0.04],[4.137,0.01],[4.196,-0.02],[4.333,-0.02],[4.49,-0.02],[4.529,0],[4.558,0.05],[4.584,0.11],[4.607,0.02],[4.631,-0.05],[4.656,-0.06],[4.686,-0.07],[4.705,0.28],[4.715,0.31],[4.725,-0.18],[4.748,-1.68],[4.76,-0.87],[4.774,-0.18],[4.793,-0.02],[4.823,0.05],[4.852,0.09],[4.882,0.16],[4.911,0.28],[4.94,0.46],[4.97,0.64],[4.999,0.7],[5.023,0.64],[5.048,0.44],[5.078,0.18],[5.107,0.07],[5.156,0.06],[5.215,0.05],[5.274,0],[5.333,-0.02],[5.391,-0.04],[5.45,-0.02],[5.509,-0.01],[5.568,0],[5.627,0.02],[5.662,0.1],[5.685,0.02],[5.709,-0.05],[5.744,-0.04],[5.768,-0.06],[5.783,0.32],[5.795,0.37],[5.807,-0.18],[5.828,-1.68],[5.842,-0.87],[5.858,-0.11],[5.882,0.01],[5.911,0.06],[5.94,0.09],[5.97,0.14],[5.989,0.21]];

const V5 = [[0,0],[0.063,-0.01],[0.131,0],[0.161,0.03],[0.19,0.08],[0.204,0.09],[0.229,0.02],[0.249,-0.04],[0.278,-0.05],[0.298,-0.06],[0.318,-0.07],[0.327,0.19],[0.337,0.31],[0.347,0.37],[0.357,-0.04],[0.367,-1],[0.38,-0.5],[0.396,-0.08],[0.425,-0.03],[0.455,0.01],[0.484,0.03],[0.514,0.08],[0.543,0.17],[0.572,0.33],[0.602,0.49],[0.627,0.58],[0.651,0.54],[0.674,0.38],[0.7,0.15],[0.725,0.02],[0.768,0],[0.847,-0.02],[0.925,-0.04],[1.003,-0.05],[1.082,-0.05],[1.16,-0.05],[1.239,-0.03],[1.258,0.01],[1.282,0.06],[1.305,-0.01],[1.327,-0.06],[1.356,-0.06],[1.386,-0.08],[1.396,0.17],[1.407,0.31],[1.419,-0.04],[1.439,-1.07],[1.45,-0.26],[1.464,-0.06],[1.484,0.01],[1.513,0.03],[1.543,0.06],[1.572,0.1],[1.601,0.19],[1.631,0.35],[1.66,0.54],[1.69,0.63],[1.713,0.58],[1.739,0.38],[1.768,0.12],[1.791,0.03],[1.846,0.02],[1.905,0.02],[1.984,0.03],[2.062,0.02],[2.14,0],[2.297,0],[2.352,0.01],[2.372,0.03],[2.387,0.05],[2.411,-0.03],[2.434,-0.07],[2.464,-0.07],[2.488,-0.09],[2.499,0.19],[2.513,0.32],[2.529,-0.13],[2.548,-1.05],[2.562,-0.31],[2.581,-0.04],[2.611,0.03],[2.64,0.06],[2.67,0.1],[2.699,0.19],[2.728,0.33],[2.758,0.49],[2.787,0.58],[2.811,0.54],[2.842,0.33],[2.87,0.1],[2.895,-0.03],[2.944,-0.04],[2.961,-0.04],[3.039,-0.05],[3.118,-0.06],[3.274,-0.06],[3.353,-0.04],[3.402,-0.01],[3.431,0.06],[3.47,0.11],[3.5,0.03],[3.529,0],[3.559,-0.01],[3.578,-0.06],[3.592,0.24],[3.604,0.56],[3.617,-0.27],[3.631,-1.03],[3.647,-0.27],[3.662,-0.01],[3.686,0.05],[3.715,0.08],[3.745,0.11],[3.774,0.17],[3.804,0.28],[3.833,0.43],[3.862,0.61],[3.898,0.67],[3.921,0.61],[3.951,0.38],[3.98,0.1],[4.009,0.02],[4.058,0.03],[4.098,0.06],[4.137,0.05],[4.215,0.02],[4.372,0.01],[4.529,0.01],[4.558,0.05],[4.588,0.1],[4.611,0.02],[4.637,-0.03],[4.666,-0.04],[4.695,-0.06],[4.709,0.42],[4.721,0.49],[4.735,-0.27],[4.748,-1.05],[4.764,-0.27],[4.784,-0.03],[4.813,0.03],[4.842,0.08],[4.872,0.14],[4.901,0.22],[4.931,0.36],[4.96,0.51],[4.989,0.63],[5.009,0.64],[5.035,0.6],[5.062,0.38],[5.093,0.12],[5.117,0.05],[5.156,0.03],[5.235,0.03],[5.313,-0.01],[5.391,-0.04],[5.509,-0.03],[5.587,-0.01],[5.636,0.02],[5.662,0.08],[5.685,0.01],[5.709,-0.04],[5.744,-0.05],[5.774,-0.08],[5.788,0.31],[5.799,0.33],[5.807,-0.04],[5.833,-0.93],[5.847,-0.26],[5.862,-0.04],[5.891,-0.01],[5.921,0.01],[5.95,0.03],[5.989,0.09]];

const V6 = [[0,0],[0.063,-0.01],[0.131,-0.02],[0.161,0],[0.184,0.05],[0.204,0.08],[0.229,0.02],[0.259,-0.04],[0.288,-0.06],[0.308,-0.05],[0.321,-0.11],[0.331,-0.16],[0.341,0.16],[0.349,0.4],[0.359,0.02],[0.37,-0.39],[0.386,-0.11],[0.4,-0.03],[0.425,-0.02],[0.455,-0.01],[0.484,0],[0.514,0.05],[0.543,0.14],[0.572,0.28],[0.602,0.41],[0.627,0.48],[0.647,0.46],[0.67,0.3],[0.7,0.07],[0.729,-0.02],[0.788,-0.05],[0.866,-0.07],[0.945,-0.09],[1.023,-0.11],[1.082,-0.12],[1.16,-0.12],[1.239,-0.1],[1.258,-0.07],[1.278,-0.03],[1.301,-0.09],[1.327,-0.14],[1.356,-0.14],[1.386,-0.18],[1.396,-0.25],[1.405,0.02],[1.415,0.28],[1.425,-0.07],[1.439,-0.46],[1.454,-0.16],[1.474,-0.14],[1.503,-0.11],[1.533,-0.09],[1.562,-0.05],[1.592,0.02],[1.621,0.11],[1.65,0.28],[1.68,0.39],[1.705,0.4],[1.729,0.34],[1.758,0.11],[1.788,-0.09],[1.827,-0.12],[1.905,-0.12],[1.984,-0.11],[2.062,-0.12],[2.14,-0.14],[2.219,-0.12],[2.297,-0.12],[2.346,-0.11],[2.372,-0.08],[2.387,-0.06],[2.411,-0.11],[2.434,-0.15],[2.464,-0.16],[2.493,-0.16],[2.503,-0.28],[2.513,0.02],[2.525,0.29],[2.536,-0.07],[2.548,-0.48],[2.562,-0.21],[2.581,-0.16],[2.611,-0.11],[2.64,-0.1],[2.679,-0.05],[2.709,0.05],[2.738,0.16],[2.767,0.29],[2.797,0.34],[2.822,0.31],[2.856,0.07],[2.885,-0.11],[2.915,-0.2],[2.964,-0.22],[3.039,-0.24],[3.118,-0.26],[3.196,-0.26],[3.274,-0.25],[3.304,-0.28],[3.353,-0.25],[3.402,-0.24],[3.431,-0.18],[3.466,-0.15],[3.494,-0.16],[3.51,-0.22],[3.539,-0.24],[3.568,-0.25],[3.584,-0.37],[3.598,-0.07],[3.608,0.18],[3.619,-0.16],[3.631,-0.55],[3.647,-0.25],[3.666,-0.21],[3.696,-0.18],[3.725,-0.16],[3.755,-0.14],[3.784,-0.05],[3.813,0.07],[3.843,0.18],[3.872,0.3],[3.898,0.32],[3.921,0.28],[3.951,0.07],[3.98,-0.16],[4.009,-0.26],[4.058,-0.25],[4.088,-0.24],[4.117,-0.26],[4.254,-0.28],[4.411,-0.26],[4.49,-0.25],[4.529,-0.24],[4.558,-0.18],[4.584,-0.16],[4.607,-0.2],[4.637,-0.25],[4.666,-0.28],[4.69,-0.3],[4.701,-0.34],[4.715,-0.07],[4.725,0.18],[4.737,-0.16],[4.748,-0.57],[4.764,-0.28],[4.784,-0.21],[4.813,-0.18],[4.842,-0.16],[4.882,-0.11],[4.911,-0.02],[4.94,0.09],[4.97,0.23],[4.999,0.31],[5.015,0.32],[5.038,0.28],[5.068,0.07],[5.101,-0.18],[5.137,-0.23],[5.235,-0.24],[5.352,-0.26],[5.509,-0.28],[5.587,-0.25],[5.636,-0.2],[5.67,-0.14],[5.696,-0.16],[5.715,-0.23],[5.744,-0.25],[5.774,-0.28],[5.783,-0.34],[5.795,-0.07],[5.803,0.2],[5.815,-0.16],[5.833,-0.44],[5.847,-0.25],[5.862,-0.21],[5.891,-0.2],[5.921,-0.17],[5.95,-0.15],[5.989,-0.09]];

const leadData = [aVL, I, aVR, II, aVF, III, V1, V2, V3, V4, V5, V6];

// ---- Axis ranges and paper grid (0.2 s / 0.5 mV large squares, 0.04 s / 0.1 mV small squares) ----
const xRange = [-0.2995, 6.2895];
const yRange = [-18.826, 0.1667];
const majorX = [], minorX = [], majorY = [], minorY = [];
for (let k = -1; k <= 31; k++) majorX.push(+(k * 0.2).toFixed(2));
for (let k = -7; k <= 157; k++) if (k % 5 !== 0) minorX.push(+(k * 0.04).toFixed(2));
for (let k = 0; k <= 37; k++) majorY.push(+(-k * 0.5).toFixed(1));
for (let k = -1; k <= 188; k++) if (k % 5 !== 0) minorY.push(+(-k * 0.1).toFixed(1));

function gridLines(values, dir, color, width, z) {
  return {
    type: 'custom', silent: true, z: z, animation: false,
    xAxisIndex: 0, yAxisIndex: 0,
    data: values.map(v => dir === 'x' ? [v, 0] : [0, v]),
    renderItem: function (params, api) {
      let p1, p2;
      if (dir === 'x') {
        const v = api.value(0);
        p1 = api.coord([v, yRange[0]]); p2 = api.coord([v, yRange[1]]);
      } else {
        const v = api.value(1);
        p1 = api.coord([xRange[0], v]); p2 = api.coord([xRange[1], v]);
      }
      return { type: 'line', shape: { x1: p1[0], y1: p1[1], x2: p2[0], y2: p2[1] },
               style: { stroke: color, lineWidth: width } };
    }
  };
}

const hidden = { show: false };
function xAx(pos, ticks, len, showLine) {
  return {
    type: 'value', min: xRange[0], max: xRange[1], position: pos,
    axisLine: { show: showLine, onZero: false, lineStyle: { color: '#000', width: 2 } },
    axisTick: ticks ? { show: true, customValues: ticks, length: len, lineStyle: { color: '#000', width: 1.5 } } : hidden,
    axisLabel: hidden, splitLine: hidden, minorTick: hidden, minorSplitLine: hidden
  };
}
function yAx(pos, ticks, len, showLine) {
  return {
    type: 'value', min: yRange[0], max: yRange[1], position: pos,
    axisLine: { show: showLine, onZero: false, lineStyle: { color: '#000', width: 2 } },
    axisTick: ticks ? { show: true, customValues: ticks, length: len, lineStyle: { color: '#000', width: 1.5 } } : hidden,
    axisLabel: hidden, splitLine: hidden, minorTick: hidden, minorSplitLine: hidden
  };
}

const series = [
  gridLines(minorX, 'x', '#e9e9e9', 1, 1),
  gridLines(minorY, 'y', '#e9e9e9', 1, 1),
  gridLines(majorX, 'x', '#cacaca', 2, 1.5),
  gridLines(majorY, 'y', '#cacaca', 2, 1.5)
];
leadData.forEach((d, i) => {
  series.push({
    type: 'line', name: leadNames[i], xAxisIndex: 0, yAxisIndex: 0,
    data: d.map(p => [p[0], +(leadOffsets[i] + p[1]).toFixed(4)]),
    showSymbol: false, symbol: 'none', silent: true, z: 3, animation: false,
    lineStyle: { color: '#0000cd', width: 2.9, join: 'round', cap: 'round' }
  });
});
series.push({
  type: 'scatter', xAxisIndex: 0, yAxisIndex: 0, silent: true, z: 5, animation: false,
  symbolSize: 1, itemStyle: { color: 'rgba(0,0,0,0)' },
  data: leadData.map((d, i) => [d[0][0], leadOffsets[i] + d[0][1]]),
  label: {
    show: true, position: 'left', distance: 9,
    formatter: p => leadNames[p.dataIndex],
    fontSize: 29, fontWeight: 'bold', color: '#000',
    fontFamily: '"DejaVu Sans", sans-serif'
  }
});

const chart = echarts.init(document.getElementById('chart'), null, { renderer: 'canvas' });
chart.setOption({
  animation: false,
  backgroundColor: '#ffffff',
  grid: { left: 30, right: 23, top: 22, bottom: 31, containLabel: false, outerBoundsMode: 'none' },
  xAxis: [
    xAx('bottom', majorX, 8, true),
    xAx('bottom', minorX, 4, false),
    xAx('top', null, 0, true)
  ],
  yAxis: [
    yAx('left', majorY, 7, true),
    yAx('left', minorY, 4, false),
    yAx('right', null, 0, true)
  ],
  graphic: [{
    type: 'text', x: 1101, y: 2497, z: 100, silent: true,
    style: { text: caption, fill: '#000', fontSize: 24, fontFamily: '"DejaVu Sans", sans-serif',
             align: 'center', verticalAlign: 'middle', textAlign: 'center', textVerticalAlign: 'middle' }
  }],
  series: series
});
</script>
</body>
</html>
